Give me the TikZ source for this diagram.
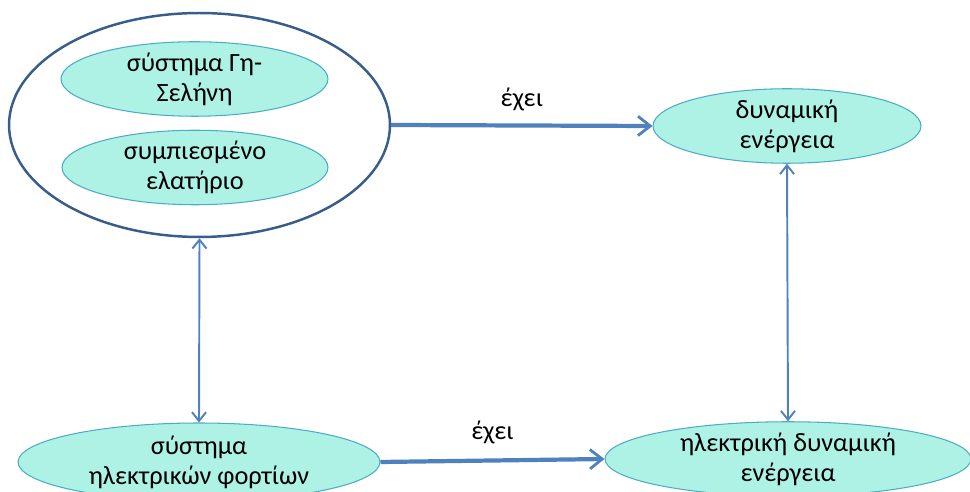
\documentclass[tikz,border=0pt]{standalone}
\usepackage{fontspec}
\setmainfont{Carlito}
\usetikzlibrary{shapes.geometric,arrows.meta}
\definecolor{bubblefill}{HTML}{AEF2E6}
\definecolor{bubbleline}{HTML}{4BACC6}
\definecolor{groupline}{HTML}{385D8A}
\definecolor{linkblue}{HTML}{4F81BD}
\begin{document}
\begin{tikzpicture}[x=0.02cm,y=-0.02cm,
  bubble/.style={ellipse,draw=bubbleline,line width=0.6pt,fill=bubblefill,
    inner sep=0pt,align=center,font=\fontsize{15}{17}\selectfont},
  group/.style={ellipse,draw=groupline,line width=1.4pt,inner sep=0pt},
  haslink/.style={draw=linkblue,line width=2.4pt,
    -{Straight Barb[length=7pt,width=11pt,line width=1.6pt]}},
  pairlink/.style={draw=linkblue,line width=1.1pt,
    {Straight Barb[length=5pt,width=8pt]}-{Straight Barb[length=5pt,width=8pt]}},
  tag/.style={font=\fontsize{15}{17}\selectfont}]
  \useasboundingbox (0,0) rectangle (970,492);

  % group of systems with stored energy
  \node[group,minimum width=7.62cm,minimum height=4.48cm] (sys) at (199.5,125) {};
  \node[bubble,minimum width=5.34cm,minimum height=1.16cm] (earth) at (194.5,79)
    {σύστημα Γη-\\Σελήνη};
  \node[bubble,minimum width=5.32cm,minimum height=1.14cm] (spring) at (195,167.5)
    {συμπιεσμένο\\ελατήριο};

  % energy forms
  \node[bubble,minimum width=5.36cm,minimum height=1.36cm] (pot) at (787,126)
    {δυναμική\\ενέργεια};
  \node[bubble,minimum width=7.24cm,minimum height=1.56cm] (charges) at (199,462)
    {σύστημα\\ηλεκτρικών φορτίων};
  \node[bubble,minimum width=7.32cm,minimum height=1.48cm] (elpot) at (788,459)
    {ηλεκτρική δυναμική\\ενέργεια};

  % relations
  \draw[haslink] (sys.east) -- (pot.west) node[tag,midway,above=4pt] (has1) {έχει};
  \draw[haslink] (charges.east) -- (elpot.west) node[tag,midway,above=5pt] (has2) {έχει};
  \draw[pairlink] (sys.south) -- (charges.north);
  \draw[pairlink] (pot.south) -- (elpot.north);
\end{tikzpicture}
\end{document}
